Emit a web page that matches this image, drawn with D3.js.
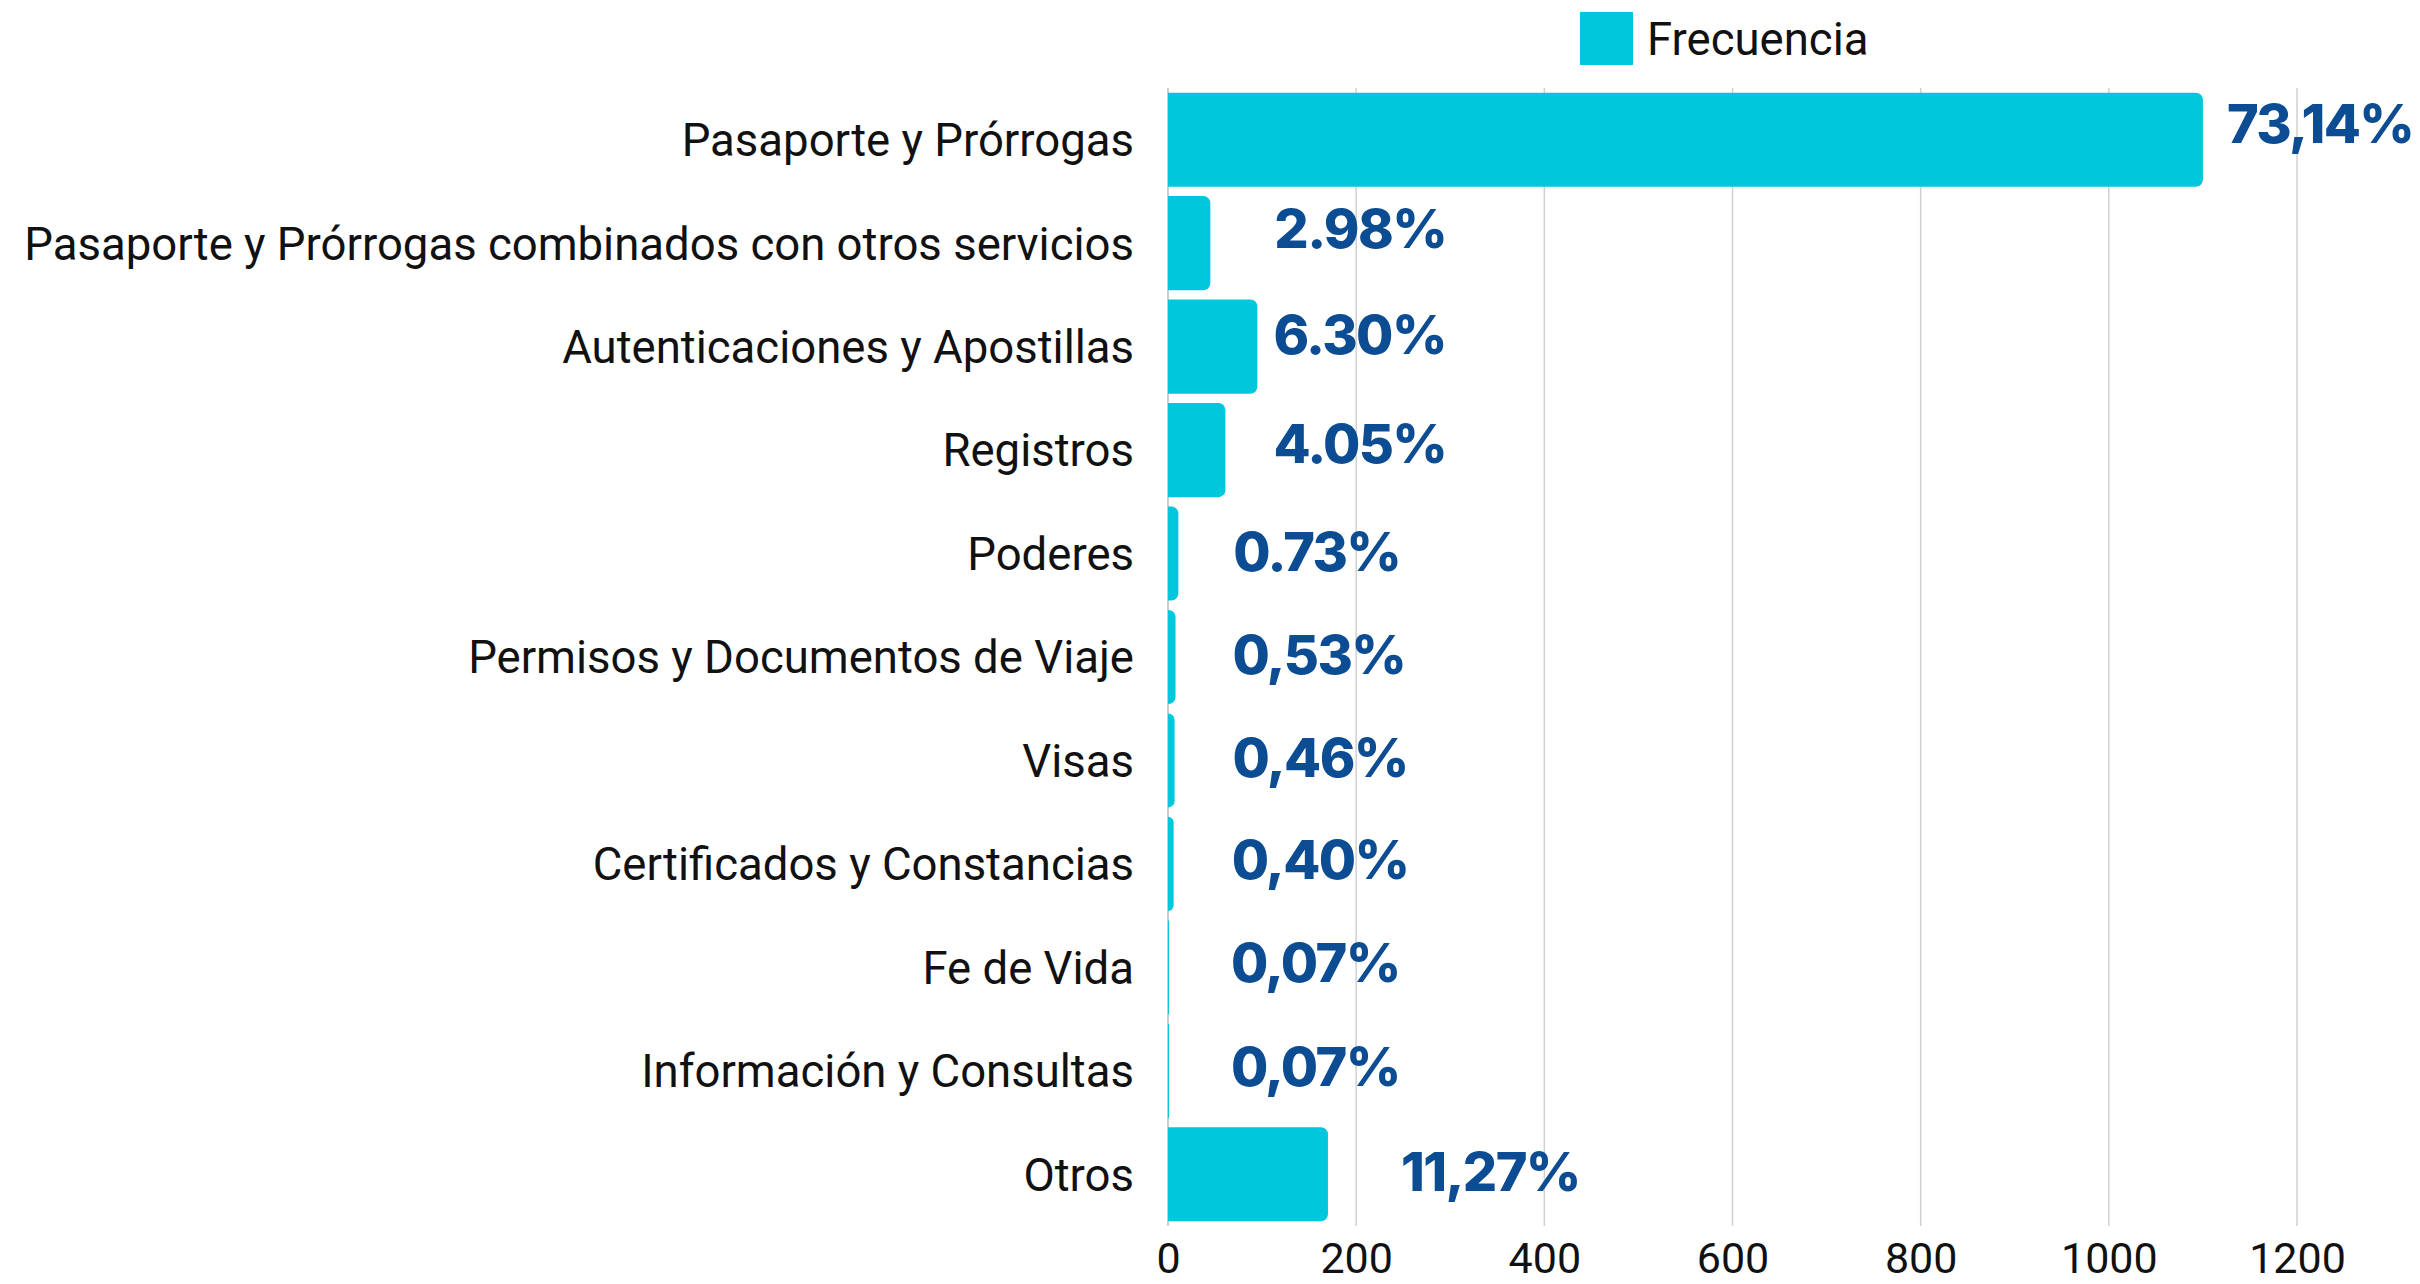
<!DOCTYPE html>
<html><head><meta charset="utf-8">
<script src="https://cdn.jsdelivr.net/npm/d3@7"></script>
<style>
html,body{margin:0;padding:0;background:#fff;}
svg{display:block;}
</style></head>
<body>
<svg id="chart" width="2420" height="1284"></svg>
<script>
const categories = [
  "Pasaporte y Prórrogas",
  "Pasaporte y Prórrogas combinados con otros servicios",
  "Autenticaciones y Apostillas",
  "Registros",
  "Poderes",
  "Permisos y Documentos de Viaje",
  "Visas",
  "Certificados y Constancias",
  "Fe de Vida",
  "Información y Consultas",
  "Otros"
];
const frecuencia = [1100, 45, 95, 61, 11, 8, 7, 6, 1, 1, 170];
const percentLabels = ["73,14%", "2.98%", "6.30%", "4.05%", "0.73%", "0,53%", "0,46%", "0,40%", "0,07%", "0,07%", "11,27%"];
const xTicks = [0, 200, 400, 600, 800, 1000, 1200];
const seriesName = "Frecuencia";

// layout (not data)
const labelDx = [24, 64, 16, 48, 55, 57, 58, 58, 62, 62, 73];
const labelDy = [-16, -15, -12, -7, -2, -2, -3, -4, -5, -4, -3];

const svg = d3.select("#chart");
const barColor = "#00C7DC";
const labelColor = "#0C4C92";
const catFont = "Roboto, 'Liberation Sans', sans-serif";
const pctFont = "Inter, Lato, sans-serif";

const x = d3.scaleLinear().domain([0, 1200]).range([1168, 2297]);
const y = d3.scaleBand().domain(categories).range([88, 1226]).paddingInner(0.09).paddingOuter(0.045);

// gridlines
svg.append("g").selectAll("line").data(xTicks.slice(1)).join("line")
  .attr("x1", d => x(d)).attr("x2", d => x(d))
  .attr("y1", 88).attr("y2", 1226)
  .attr("stroke", "#d0d0d0").attr("stroke-width", 1.5);

// baseline
svg.append("line").attr("x1", x(0)).attr("x2", x(0)).attr("y1", 88).attr("y2", 1226)
  .attr("stroke", "#bdbdbd").attr("stroke-width", 1.5);

// bars with rounded right corners
function barPath(x0, x1, y0, h, r) {
  const w = x1 - x0;
  r = Math.min(r, w, h / 2);
  const p = d3.path();
  p.moveTo(x0, y0);
  p.lineTo(x1 - r, y0);
  p.arcTo(x1, y0, x1, y0 + r, r);
  p.lineTo(x1, y0 + h - r);
  p.arcTo(x1, y0 + h, x1 - r, y0 + h, r);
  p.lineTo(x0, y0 + h);
  p.closePath();
  return p.toString();
}
const rows = categories.map((c, i) => ({c, v: frecuencia[i], lab: percentLabels[i], dx: labelDx[i], dy: labelDy[i]}));

svg.append("g").selectAll("path").data(rows).join("path")
  .attr("d", d => barPath(x(0), x(d.v), y(d.c), y.bandwidth(), 7))
  .attr("fill", barColor);

// category labels
svg.append("g").selectAll("text").data(rows).join("text")
  .attr("x", 1134).attr("y", d => y(d.c) + y.bandwidth() / 2)
  .attr("dy", "0.36em")
  .attr("text-anchor", "end")
  .attr("font-family", catFont).attr("font-size", 45.5).attr("fill", "#111")
  .text(d => d.c);

// percent labels
svg.append("g").selectAll("text").data(rows).join("text")
  .attr("x", d => x(d.v) + d.dx).attr("y", d => y(d.c) + y.bandwidth() / 2 + d.dy)
  .attr("dy", "0.36em")
  .attr("font-family", pctFont).attr("font-weight", 800).attr("font-size", 54)
  .attr("letter-spacing", "-1.6px")
  .attr("fill", labelColor)
  .text(d => d.lab);

// x axis
const xAxis = d3.axisBottom(x).tickValues(xTicks).tickFormat(d3.format("d")).tickSize(0).tickPadding(0);
const ax = svg.append("g").attr("transform", "translate(0,1273)").call(xAxis);
ax.select(".domain").remove();
ax.selectAll("text").attr("font-family", catFont).attr("font-size", 43).attr("fill", "#111")
  .attr("y", 0).attr("dy", "0");

// legend
svg.append("rect").attr("x", 1580).attr("y", 12).attr("width", 53).attr("height", 53).attr("fill", barColor);
svg.append("text").attr("x", 1647).attr("y", 39).attr("dy", "0.36em")
  .attr("font-family", catFont).attr("font-size", 45.5).attr("fill", "#111").text(seriesName);
</script>
</body></html>
